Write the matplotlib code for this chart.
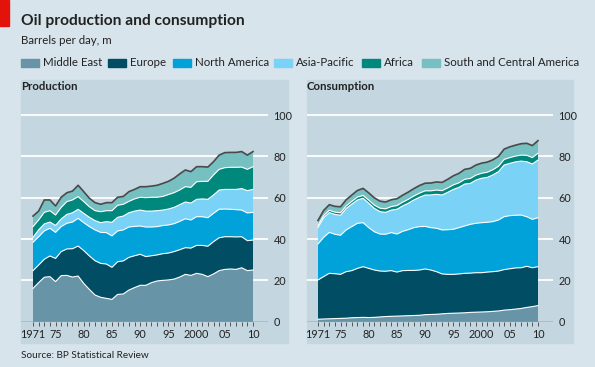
import matplotlib
matplotlib.use("Agg")
import matplotlib.pyplot as plt
from matplotlib.patches import Rectangle
import numpy as np

plt.rcParams['font.family'] = ['Lato', 'DejaVu Sans']

years = list(range(1971, 2011))
regions = ["Middle East", "Europe", "North America", "Asia-Pacific", "Africa",
           "South and Central America"]
colors = ["#6794a7", "#014d64", "#01a2d9", "#7ad2f6", "#00887d", "#76c0c1"]
xtick_years = [1971, 1975, 1980, 1985, 1990, 1995, 2000, 2005, 2010]
xtick_labels = ["1971", "75", "80", "85", "90", "95", "2000", "05", "10"]
yticks = [0, 20, 40, 60, 80, 100]

# Production, m barrels per day
prod_middle_east = [16.1, 18.9, 21.5, 21.8, 19.4, 22.3, 22.4, 21.6, 22.1, 18.5,
                    15.6, 12.9, 11.8, 11.3, 10.8, 13.2, 13.4, 15.3, 16.5, 17.6,
                    17.6, 18.9, 19.7, 20.0, 20.2, 20.6, 21.6, 22.9, 22.4, 23.4,
                    22.9, 21.8, 23.1, 24.7, 25.3, 25.5, 25.3, 26.1, 24.7, 25.0]
prod_europe = [8.6, 8.5, 8.7, 10.0, 11.2, 11.6, 12.8, 13.7, 14.5, 15.9,
               16.2, 16.6, 16.4, 16.6, 15.5, 15.8, 16.0, 15.8, 15.4, 15.0,
               13.9, 13.0, 12.6, 12.9, 13.0, 13.3, 13.2, 12.9, 13.2, 13.5,
               14.0, 14.7, 15.6, 15.9, 15.8, 15.6, 15.7, 15.0, 14.5, 14.5]
prod_north_america = [13.7, 13.7, 13.7, 13.4, 12.6, 12.1, 12.4, 12.9, 13.4, 13.5,
                      14.2, 14.9, 15.0, 15.2, 15.2, 14.9, 15.0, 14.7, 14.2, 13.7,
                      14.3, 13.9, 13.7, 13.6, 13.6, 13.5, 13.7, 14.0, 13.6, 13.9,
                      13.9, 13.8, 13.7, 13.8, 13.4, 13.3, 13.2, 12.9, 13.4, 13.4]
prod_asia_pacific = [2.4, 3.3, 3.4, 3.0, 3.4, 3.7, 4.3, 4.5, 4.4, 4.5,
                     4.5, 4.5, 4.7, 5.3, 6.6, 6.6, 6.7, 6.9, 7.4, 7.7,
                     7.7, 7.7, 7.7, 7.5, 7.7, 7.9, 8.1, 8.1, 8.2, 8.4,
                     8.6, 8.9, 8.9, 9.3, 9.5, 9.6, 9.8, 10.4, 10.8, 11.1]
prod_africa = [5.2, 4.8, 5.6, 5.5, 5.0, 5.6, 6.2, 6.2, 6.1, 5.7,
               5.1, 4.8, 5.3, 5.3, 5.6, 5.8, 5.7, 5.5, 5.9, 6.2,
               6.5, 6.7, 6.5, 6.6, 7.0, 7.1, 7.1, 7.4, 7.6, 8.5,
               8.5, 8.7, 9.7, 10.0, 10.5, 10.7, 10.7, 10.4, 10.3, 11.0]
prod_sc_america = [5.1, 4.3, 6.0, 5.2, 4.4, 4.9, 4.3, 4.3, 5.5, 4.8,
                   4.1, 3.9, 3.6, 3.9, 3.9, 3.9, 3.8, 4.7, 4.6, 5.1,
                   5.3, 5.4, 5.8, 6.3, 6.4, 7.0, 7.8, 8.1, 7.6, 7.3,
                   7.1, 6.9, 6.4, 6.9, 7.3, 7.2, 7.2, 7.5, 6.9, 7.3]

# Consumption, m barrels per day
cons_middle_east = [1.2, 1.3, 1.4, 1.5, 1.6, 1.7, 1.9, 2.0, 2.1, 2.0,
                    2.1, 2.3, 2.5, 2.6, 2.7, 2.8, 2.9, 3.0, 3.1, 3.4,
                    3.5, 3.6, 3.8, 4.0, 4.1, 4.2, 4.3, 4.5, 4.6, 4.7,
                    4.8, 5.0, 5.2, 5.6, 5.8, 6.1, 6.4, 6.9, 7.3, 7.8]
cons_europe = [19.0, 20.5, 22.0, 21.7, 21.3, 22.5, 22.8, 23.8, 24.5, 23.8,
               22.9, 22.2, 21.9, 22.1, 21.3, 21.9, 21.9, 21.8, 21.9, 22.1,
               21.5, 20.6, 19.3, 18.9, 18.8, 18.9, 19.1, 19.0, 19.1, 19.0,
               19.2, 19.2, 19.3, 19.6, 19.8, 19.9, 19.7, 19.9, 18.8, 18.8]
cons_north_america = [17.4, 19.0, 19.8, 19.1, 18.9, 20.2, 21.3, 21.8, 21.3, 19.7,
                      18.5, 17.9, 17.9, 18.4, 18.4, 19.0, 19.7, 20.7, 21.0, 20.6,
                      20.5, 21.0, 21.3, 21.6, 21.8, 22.4, 22.9, 23.6, 23.9, 24.2,
                      24.1, 24.2, 24.7, 25.6, 25.7, 25.5, 25.5, 24.0, 23.4, 23.7]
cons_asia_pacific = [8.0, 9.5, 9.6, 9.6, 9.7, 10.4, 10.9, 11.3, 11.8, 11.8,
                     11.3, 10.8, 10.6, 10.9, 12.0, 12.3, 12.8, 13.4, 14.2, 15.2,
                     15.8, 16.4, 16.9, 18.1, 19.3, 19.5, 20.3, 19.8, 20.9, 21.5,
                     21.7, 22.6, 23.4, 25.0, 25.3, 25.8, 26.1, 26.6, 26.8, 27.9]
cons_africa = [1.0, 1.0, 1.1, 1.1, 1.2, 1.2, 1.3, 1.4, 1.4, 1.5,
               1.6, 1.7, 1.7, 1.7, 1.8, 1.8, 1.9, 1.9, 2.0, 2.0,
               2.0, 2.1, 2.1, 2.1, 2.2, 2.2, 2.3, 2.4, 2.4, 2.4,
               2.5, 2.5, 2.6, 2.7, 2.8, 2.8, 2.9, 3.1, 3.1, 3.3]
cons_sc_america = [2.4, 2.5, 2.7, 2.8, 2.9, 3.0, 3.1, 3.2, 3.4, 3.5,
                   3.5, 3.4, 3.3, 3.3, 3.3, 3.4, 3.5, 3.6, 3.7, 3.7,
                   3.8, 3.9, 4.0, 4.2, 4.4, 4.6, 4.8, 4.9, 4.9, 4.9,
                   4.9, 4.8, 4.8, 5.0, 5.2, 5.3, 5.5, 5.8, 5.8, 6.1]

production = [prod_middle_east, prod_europe, prod_north_america,
              prod_asia_pacific, prod_africa, prod_sc_america]
consumption = [cons_middle_east, cons_europe, cons_north_america,
               cons_asia_pacific, cons_africa, cons_sc_america]

W, H = 595, 367
BG = "#d7e4ec"
PANEL = "#c4d6df"
TXT = "#222222"

fig = plt.figure(figsize=(W / 100, H / 100), dpi=100, facecolor=BG)


def fx(x):
    return x / W


def fy(y):
    return 1 - y / H


# red tag
fig.patches.append(Rectangle((0, fy(26)), fx(9), 26 / H, color="#e3120b",
                             transform=fig.transFigure, zorder=-1))

fig.text(fx(21), fy(21), "Oil production and consumption", fontsize=11.2,
         fontweight="bold", color=TXT, va="center", ha="left")
fig.text(fx(21), fy(41), "Barrels per day, m", fontsize=8.3, color=TXT,
         va="center", ha="left")

# legend
leg_x = [21, 108, 173, 274, 362, 422]
for name, c, lx in zip(regions, colors, leg_x):
    fig.patches.append(Rectangle((fx(lx), fy(67)), fx(18), 8 / H, color=c,
                                 transform=fig.transFigure, zorder=-1))
    fig.text(fx(lx + 22), fy(63), name, fontsize=8.3, color=TXT,
             va="center", ha="left")

fig.text(fx(21), fy(355), "Source: BP Statistical Review", fontsize=7.2,
         color=TXT, va="center", ha="left")

ppu = (321.7 - 115) / 100.0  # pixels per unit
ytop = 105


def panel(px0, px1, axr, year0_px, title, data):
    fig.patches.append(Rectangle((fx(px0), fy(343)), fx(px1 - px0),
                                 (343 - 80) / H, color=PANEL,
                                 transform=fig.transFigure, zorder=-2))
    fig.text(fx(px0), fy(86), title, fontsize=8.2, fontweight="bold",
             color=TXT, va="center", ha="left")
    top_px = 321.7 - ytop * ppu
    ax = fig.add_axes([fx(px0), fy(321.7), fx(axr - px0),
                       (321.7 - top_px) / H])
    ax.set_facecolor("none")
    pxyr = 220 / 39.0
    left = 1971 - (year0_px - px0) / pxyr
    ax.set_xlim(left, left + (axr - px0) / pxyr)
    ax.set_ylim(0, ytop)
    for s in ax.spines.values():
        s.set_visible(False)
    for v in yticks[1:]:
        ax.axhline(v, color="white", lw=1.3, zorder=1)
    ax.stackplot(years, *data, colors=colors, lw=0, zorder=2)
    cum = np.cumsum(np.array(data), axis=0)
    for i in range(len(data) - 1):
        ax.plot(years, cum[i], color="white", lw=0.8, zorder=3)
    ax.plot(years, cum[-1], color="#4a4a4a", lw=1.2, zorder=4)
    ax.axhline(0, color="#555555", lw=1.0, zorder=5)
    ax.yaxis.tick_right()
    ax.set_yticks(yticks)
    ax.tick_params(axis="y", length=0, pad=4, labelsize=7.8, labelcolor=TXT)
    ax.set_xticks(xtick_years)
    ax.set_xticklabels(xtick_labels)
    ax.set_xticks(years, minor=True)
    ax.tick_params(axis="x", which="both", length=3, width=0.7,
                   color="#555555", direction="out", pad=2,
                   labelsize=7.8, labelcolor=TXT)
    return ax


panel(21, 288, 268, 33, "Production", production)
panel(307, 573, 553, 318, "Consumption", consumption)

fig.savefig("out.png", dpi=100, facecolor=BG)
